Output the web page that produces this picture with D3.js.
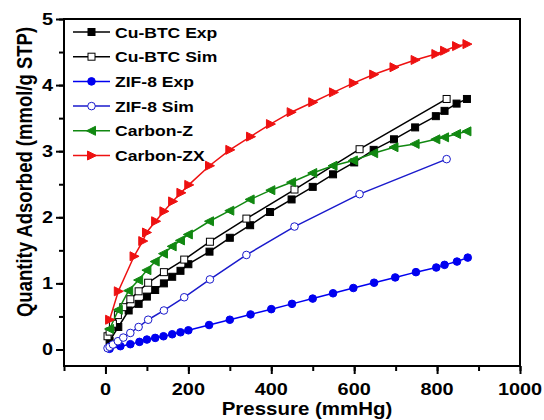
<!DOCTYPE html>
<html>
<head>
<meta charset="utf-8">
<script src="https://cdn.jsdelivr.net/npm/d3@7"></script>
<style>
body { margin: 0; background: #fff; }
text { font-family: Arial, "Liberation Sans", sans-serif; font-weight: bold; }
</style>
</head>
<body>
<div id="chart"></div>
<script>
// pressures (mmHg) and uptake (mmol/g STP)
var cuExpP = [10, 31, 56, 80, 100, 120, 141, 161, 181, 200, 251, 300, 349, 397, 449, 500, 549, 600, 647, 696, 747, 797, 818, 847, 872]
var cuExpQ = [0.13, 0.34, 0.59, 0.69, 0.80, 0.90, 1.00, 1.10, 1.19, 1.29, 1.48, 1.69, 1.88, 2.08, 2.27, 2.46, 2.65, 2.83, 3.02, 3.18, 3.36, 3.53, 3.61, 3.72, 3.79]

var simP = [5, 10, 18, 30, 43, 60, 80, 103, 141, 190, 252, 340, 456, 613, 823]
var cuSimQ = [0.20, 0.27, 0.39, 0.52, 0.64, 0.76, 0.88, 1.01, 1.17, 1.36, 1.63, 1.98, 2.42, 3.03, 3.79]
var zifSimQ = [0.02, 0.04, 0.075, 0.125, 0.18, 0.25, 0.34, 0.45, 0.59, 0.79, 1.06, 1.43, 1.86, 2.35, 2.88]

var zifExpP = [10, 36, 60, 82, 100, 120, 140, 161, 181, 200, 250, 300, 350, 400, 450, 500, 549, 598, 648, 699, 749, 798, 818, 848, 874]
var zifExpQ = [0.01, 0.05, 0.08, 0.115, 0.15, 0.175, 0.20, 0.23, 0.26, 0.29, 0.37, 0.45, 0.53, 0.61, 0.69, 0.77, 0.85, 0.93, 1.01, 1.09, 1.17, 1.24, 1.28, 1.33, 1.39]

var carbZP = [10, 31, 56, 80, 100, 120, 140, 161, 181, 200, 251, 300, 349, 399, 449, 500, 549, 598, 647, 696, 747, 797, 818, 847, 872]
var carbZQ = [0.31, 0.60, 0.89, 1.05, 1.20, 1.33, 1.45, 1.56, 1.65, 1.74, 1.94, 2.10, 2.27, 2.41, 2.53, 2.67, 2.78, 2.86, 2.97, 3.06, 3.11, 3.18, 3.21, 3.26, 3.30]

var carbZXP = [10, 31, 69, 90, 99, 121, 141, 162, 182, 201, 251, 300, 350, 398, 448, 500, 550, 598, 647, 696, 747, 797, 818, 847, 872]
var carbZXQ = [0.45, 0.88, 1.41, 1.64, 1.77, 1.94, 2.09, 2.24, 2.37, 2.49, 2.78, 3.02, 3.22, 3.41, 3.59, 3.74, 3.89, 4.03, 4.16, 4.27, 4.38, 4.47, 4.52, 4.59, 4.62]

var seriesNames = ['Cu-BTC Exp', 'Cu-BTC Sim', 'ZIF-8 Exp', 'ZIF-8 Sim', 'Carbon-Z', 'Carbon-ZX']
var xTicks = [0, 200, 400, 600, 800, 1000]
var yTicks = [0, 1, 2, 3, 4, 5]

var series = [
  {name: seriesNames[0], p: cuExpP, q: cuExpQ, color: '#000', sym: 'square', fill: true},
  {name: seriesNames[1], p: simP, q: cuSimQ, color: '#000', sym: 'square', fill: false},
  {name: seriesNames[2], p: zifExpP, q: zifExpQ, color: '#0000f0', sym: 'circle', fill: true},
  {name: seriesNames[3], p: simP, q: zifSimQ, color: '#1a1acc', sym: 'circle', fill: false},
  {name: seriesNames[4], p: carbZP, q: carbZQ, color: '#118811', sym: 'left', fill: true},
  {name: seriesNames[5], p: carbZXP, q: carbZXQ, color: '#ee1111', sym: 'right', fill: true}
]

var W = 544, H = 420
var m = {left: 64, right: 24, top: 19, bottom: 54}
var SX = 1.17 // the figure's lettering is a little wider than it is tall
var svg = d3.select('#chart').append('svg').attr('width', W).attr('height', H)

var x = d3.scaleLinear().domain([-100, 1000]).range([m.left, W - m.right])
var y = d3.scaleLinear().domain([-0.25, 5]).range([H - m.bottom, m.top])

// axes: minor + major ticks, labels drawn by hand so they can be stretched
var xAxis = svg.append('g').attr('transform', 'translate(0,' + (H - m.bottom) + ')')
xAxis.call(d3.axisBottom(x).tickValues(d3.range(-100, 1001, 100)).tickSize(5).tickFormat(''))
xAxis.append('g').call(d3.axisBottom(x).tickValues(xTicks).tickSize(8).tickFormat(''))
var yAxis = svg.append('g').attr('transform', 'translate(' + m.left + ',0)')
yAxis.call(d3.axisLeft(y).tickValues(d3.range(0, 5.01, 0.5)).tickSize(5).tickFormat(''))
yAxis.append('g').call(d3.axisLeft(y).tickValues(yTicks).tickSize(8).tickFormat(''))
svg.selectAll('.domain').remove()
svg.selectAll('.tick line').attr('stroke', '#000').attr('stroke-width', 2)

function label(tx, ty, str, size, anchor) {
  return svg.append('text')
    .attr('transform', 'translate(' + tx + ',' + ty + ') scale(' + SX + ',1)')
    .attr('text-anchor', anchor).attr('font-size', size).attr('fill', '#000').text(str)
}
xTicks.forEach(v => label(x(v), 395, String(v), 17, 'middle'))
yTicks.forEach(v => label(m.left - 11, y(v) + 6, String(v), 17, 'end'))

svg.append('rect')
  .attr('x', m.left).attr('y', m.top)
  .attr('width', W - m.left - m.right).attr('height', H - m.top - m.bottom)
  .attr('fill', 'none').attr('stroke', '#000').attr('stroke-width', 2)

label(307, 415, 'Pressure (mmHg)', 17.5, 'middle')
svg.append('text')
  .attr('transform', 'translate(32,172) rotate(-90) scale(1,' + SX + ')')
  .attr('text-anchor', 'middle').attr('font-size', 18.5).text('Quantity Adsorbed (mmol/g STP)')

function drawSym(g, s, cx, cy) {
  var f = s.fill ? s.color : '#fff'
  if (s.sym === 'square') {
    g.append('rect').attr('x', cx - 3.5).attr('y', cy - 3.5).attr('width', 7).attr('height', 7)
      .attr('fill', f).attr('stroke', s.color).attr('stroke-width', 1)
  } else if (s.sym === 'circle') {
    g.append('circle').attr('cx', cx).attr('cy', cy).attr('r', 3.8)
      .attr('fill', f).attr('stroke', s.color).attr('stroke-width', 1)
  } else {
    var d = s.sym === 'left' ? -1 : 1
    var pts = [[cx + 5 * d, cy], [cx - 4 * d, cy - 4.5], [cx - 4 * d, cy + 4.5]]
    g.append('path').attr('d', 'M' + pts.join('L') + 'Z')
      .attr('fill', f).attr('stroke', s.color).attr('stroke-width', 1)
  }
}

var line = d3.line().x(d => x(d[0])).y(d => y(d[1]))

series.forEach(function(s) {
  var pts = s.p.map((p, i) => [p, s.q[i]])
  var g = svg.append('g')
  g.append('path').attr('d', line(pts)).attr('fill', 'none')
    .attr('stroke', s.color).attr('stroke-width', 1.5)
  pts.forEach(d => drawSym(g, s, x(d[0]), y(d[1])))
})

// legend
var leg = svg.append('g')
series.forEach(function(s, i) {
  var ly = 32 + i * 24.7
  leg.append('line').attr('x1', 73).attr('x2', 110).attr('y1', ly).attr('y2', ly)
    .attr('stroke', s.color).attr('stroke-width', 1.5)
  drawSym(leg, s, 91.5, ly)
  leg.append('text')
    .attr('transform', 'translate(115,' + (ly + 5.5) + ') scale(' + SX + ',1)')
    .attr('font-size', 15).text(s.name)
})
</script>
</body>
</html>
